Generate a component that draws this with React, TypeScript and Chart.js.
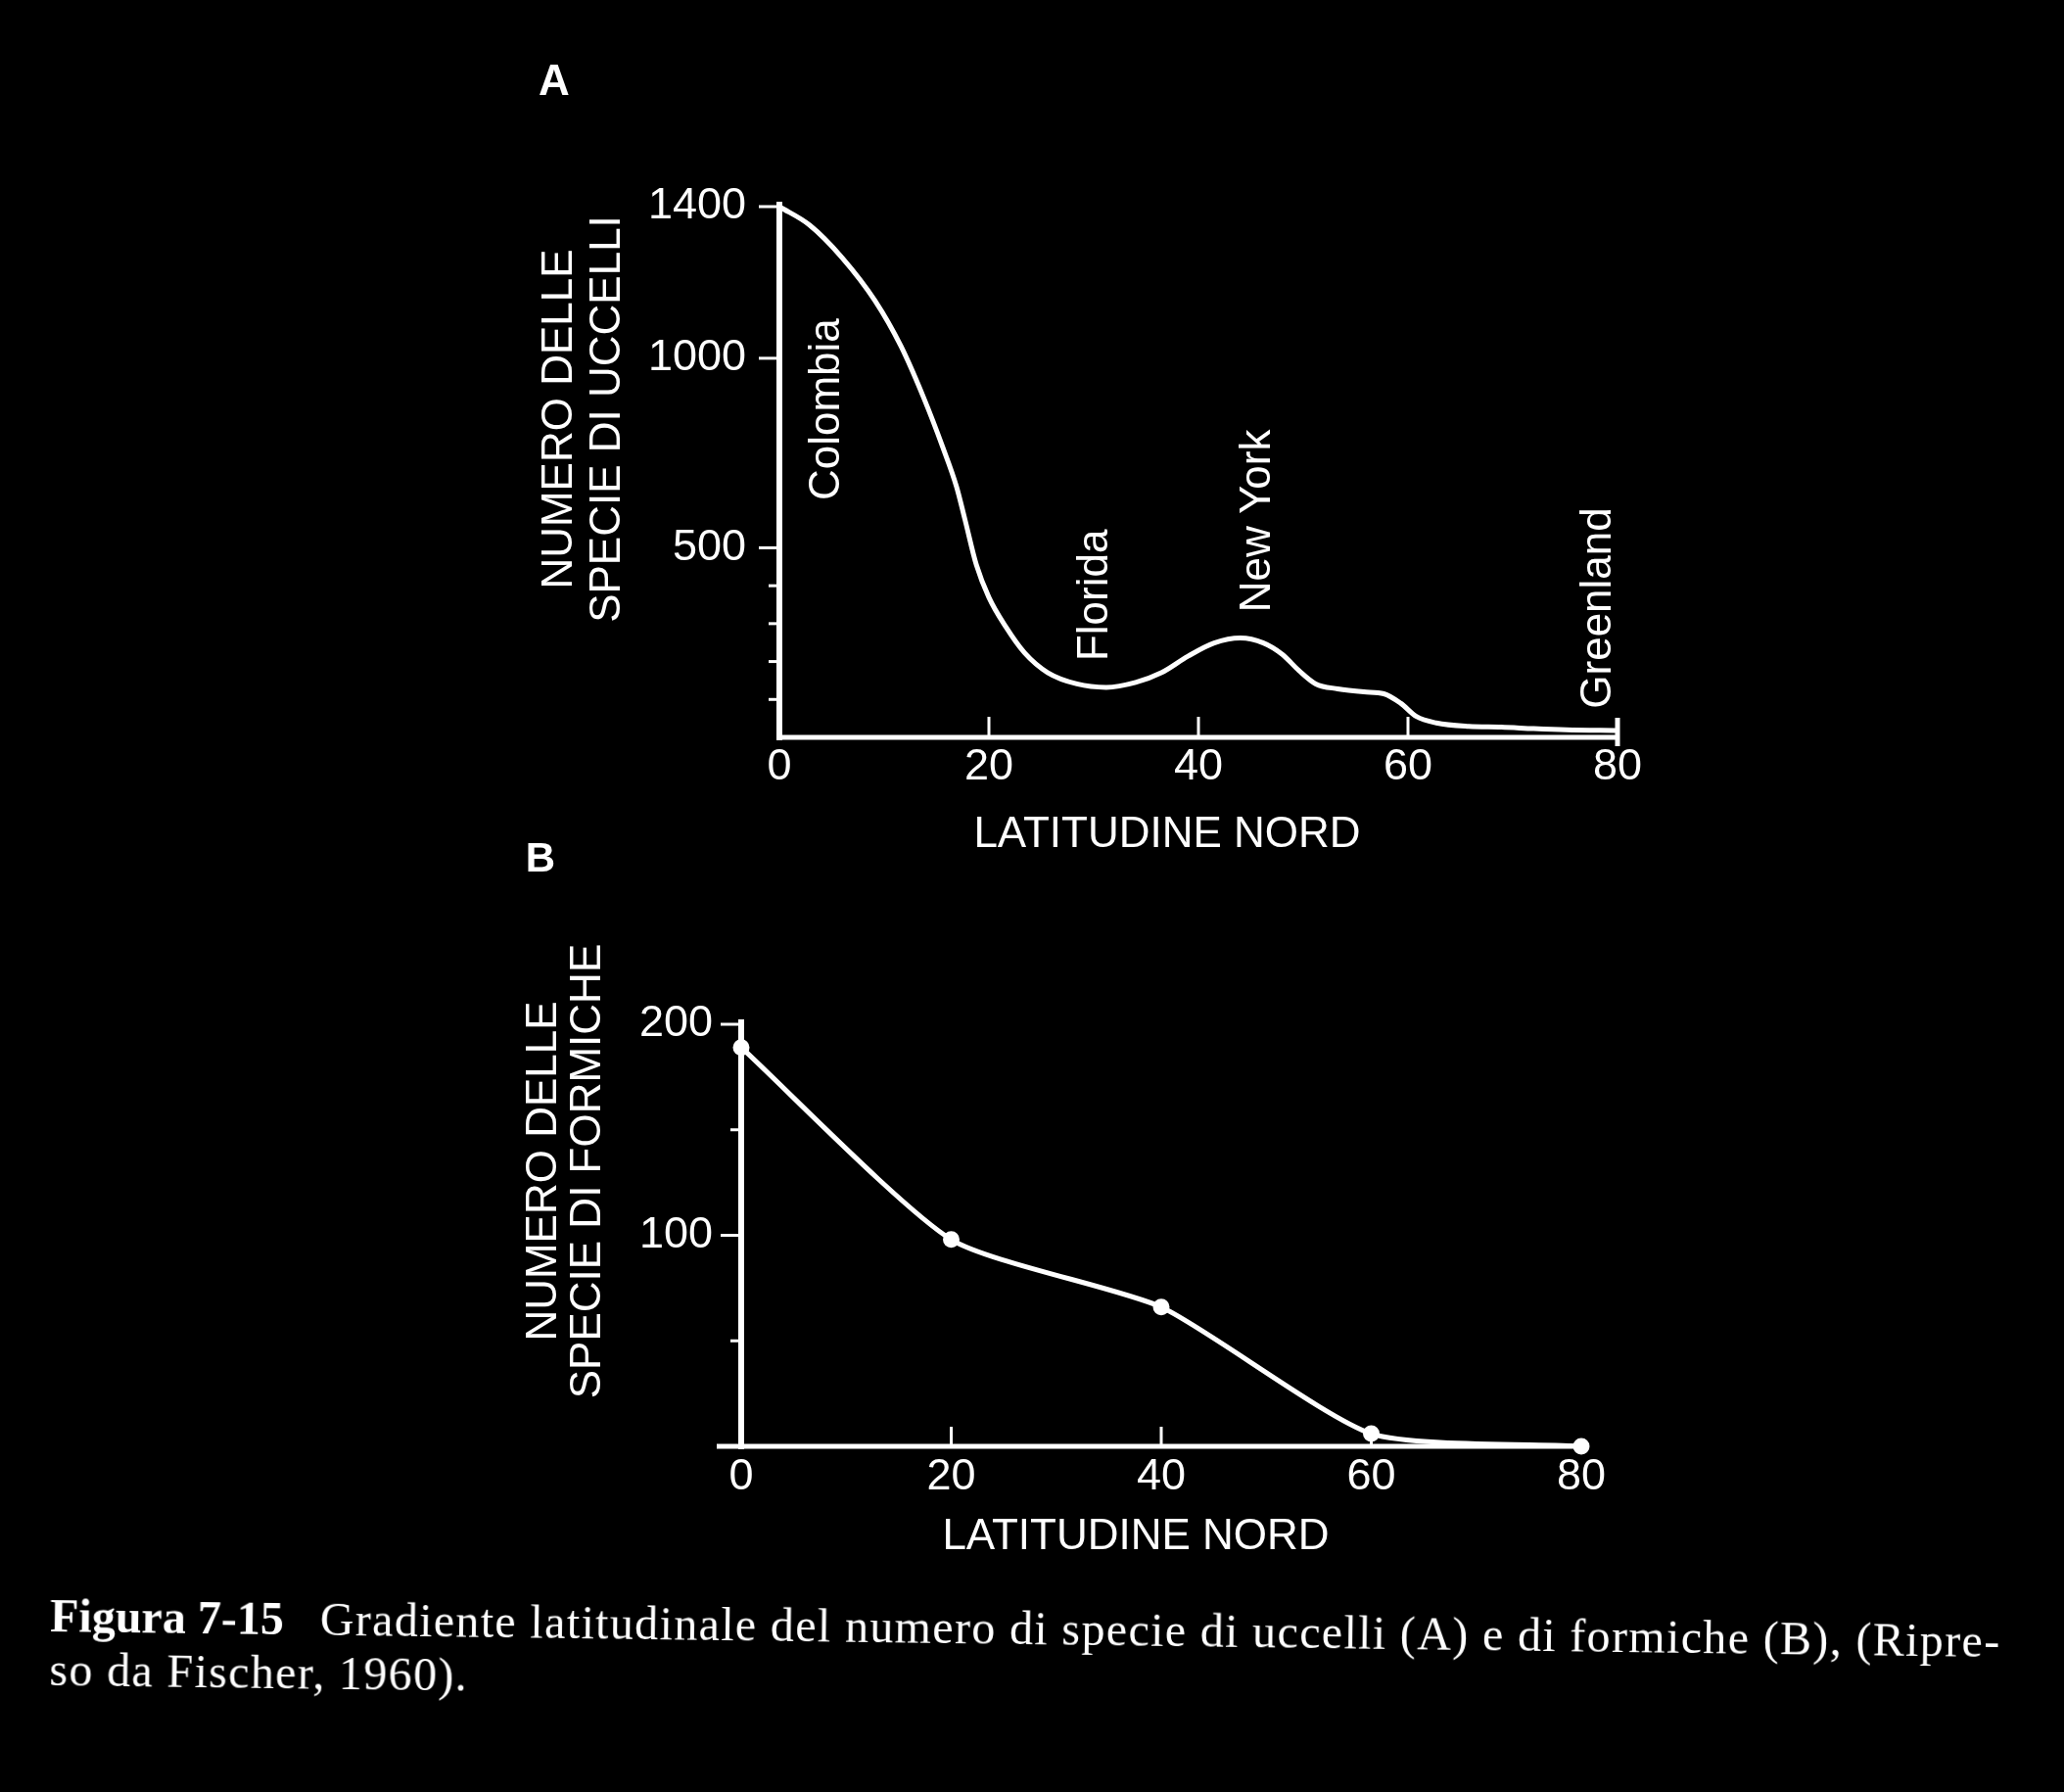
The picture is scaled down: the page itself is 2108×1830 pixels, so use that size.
import React, { useEffect, useRef } from 'react';
import { Chart, registerables } from 'chart.js';

Chart.register(...registerables);

// ---------- Panel A: birds ----------
const latitudeA = [0, 2.9, 6, 9.1, 11.6, 13.8, 15.6, 16.9, 17.7, 18.8, 20, 21.6, 23.4, 25.6, 28.4, 31.2, 34, 36.5, 39, 41.5, 44, 46.2, 48, 49.6, 51.2, 53.3, 55.8, 57.7, 59.3, 60.8, 62.7, 65.8, 68.9, 72, 75.1, 80];
const birdSpecies = [1400, 1351, 1265, 1153, 1032, 894, 765, 662, 576, 455, 369, 292, 223, 171, 141, 132, 145, 171, 214, 249, 262, 249, 219, 176, 141, 128, 120, 115, 90, 55, 38, 29, 27, 23, 20, 18];
const yTicksA = [100, 200, 300, 400, 500, 1000, 1400];
const yLabelledA = [500, 1000, 1400];
const xTicks = [0, 20, 40, 60, 80];
const placeNames = ['Colombia', 'Florida', 'New York', 'Greenland'];
const placeLat = [5.7, 31.3, 46.8, 79.3];
const placeLevel = [865, 375, 571, 341];
const yTitleA = ['NUMERO DELLE', 'SPECIE DI UCCELLI'];

// ---------- Panel B: ants ----------
const latitudeB = [0, 20, 40, 60, 80];
const antSpecies = [189, 98, 66, 6, 0];
const yTicksB = [50, 100, 150, 200];
const yLabelledB = [100, 200];
const yTitleB = ['NUMERO DELLE', 'SPECIE DI FORMICHE'];

const xTitle = 'LATITUDINE NORD';
const SANS = '"Liberation Sans", Arial, sans-serif';

type Decor = {
  letter: string; letterX: number; letterY: number; letterSize: number;
  yTitle: string[]; yTitleOffsets: number[]; yTitleCY: number;
  xTitleCX: number; xTitleDY: number;
  yMajor: number[]; majorLen: number; minorLen: number;
  innerTicks: number[]; innerLen: number;
  yMax: number; axisLeftExt: number; endBar: boolean;
  places?: boolean;
};

function decorPlugin(d: Decor) {
  return {
    id: 'decor',
    afterDraw(chart: any) {
      const { ctx, scales } = chart;
      const x = scales.x, y = scales.y;
      const x0 = x.getPixelForValue(0);
      const x1 = x.getPixelForValue(80);
      const y0 = y.getPixelForValue(0);
      const yTop = y.getPixelForValue(d.yMax);
      ctx.save();
      ctx.strokeStyle = '#fff';
      ctx.fillStyle = '#fff';
      // axes
      ctx.lineWidth = 6;
      ctx.beginPath();
      ctx.moveTo(x0, yTop - 5);
      ctx.lineTo(x0, y0 + 3);
      ctx.stroke();
      ctx.lineWidth = 5;
      ctx.beginPath();
      ctx.moveTo(x0 - d.axisLeftExt, y0);
      ctx.lineTo(x1, y0);
      ctx.stroke();
      // y ticks
      ctx.lineWidth = 3;
      (y.ticks as any[]).forEach((t) => {
        const py = y.getPixelForValue(t.value);
        const len = d.yMajor.includes(t.value) ? d.majorLen : d.minorLen;
        ctx.beginPath();
        ctx.moveTo(x0 - len, py);
        ctx.lineTo(x0, py);
        ctx.stroke();
      });
      // inner x ticks
      d.innerTicks.forEach((v) => {
        const px = x.getPixelForValue(v);
        ctx.beginPath();
        ctx.moveTo(px, y0);
        ctx.lineTo(px, y0 - d.innerLen);
        ctx.stroke();
      });
      if (d.endBar) {
        ctx.lineWidth = 5;
        ctx.beginPath();
        ctx.moveTo(x1, y0 + 9);
        ctx.lineTo(x1, y0 - 20);
        ctx.stroke();
      }
      // panel letter
      ctx.font = `bold ${d.letterSize}px ${SANS}`;
      ctx.textAlign = 'center';
      ctx.textBaseline = 'middle';
      ctx.fillText(d.letter, d.letterX, d.letterY);
      // axis titles
      ctx.font = `44px ${SANS}`;
      ctx.fillText(xTitle, d.xTitleCX, y0 + d.xTitleDY);
      d.yTitle.forEach((line, i) => {
        ctx.save();
        ctx.translate(x0 + d.yTitleOffsets[i], d.yTitleCY);
        ctx.rotate(-Math.PI / 2);
        ctx.fillText(line, 0, 0);
        ctx.restore();
      });
      // place names
      if (d.places) {
        ctx.font = `44px ${SANS}`;
        ctx.textBaseline = 'alphabetic';
        placeNames.forEach((name, i) => {
          ctx.save();
          ctx.translate(x.getPixelForValue(placeLat[i]), y.getPixelForValue(placeLevel[i]));
          ctx.rotate(-Math.PI / 2);
          ctx.fillText(name, 0, 0);
          ctx.restore();
        });
      }
      ctx.restore();
    },
  };
}

function makeConfig(opts: {
  points: { x: number; y: number }[];
  yMax: number; yTicks: number[]; yLabelled: number[];
  padTop: number; padRight: number; yWidth: number; xHeight: number;
  xLabelPad: number; yLabelPad: number;
  lineWidth: number; pointRadius: number; tension: number; monotone: boolean;
  decor: Decor;
}): any {
  const tickFont = { family: SANS, size: 45 };
  return {
    type: 'line',
    data: {
      datasets: [
        {
          data: opts.points,
          borderColor: '#fff',
          backgroundColor: '#fff',
          borderWidth: opts.lineWidth,
          pointRadius: opts.pointRadius,
          pointBorderWidth: 0,
          pointBackgroundColor: '#fff',
          tension: opts.tension,
          cubicInterpolationMode: opts.monotone ? 'monotone' : 'default',
          fill: false,
          clip: false,
        },
      ],
    },
    options: {
      responsive: false,
      animation: false,
      devicePixelRatio: 1,
      events: [],
      layout: { padding: { top: opts.padTop, right: opts.padRight, left: 0, bottom: 0 } },
      plugins: { legend: { display: false }, tooltip: { enabled: false }, title: { display: false } },
      scales: {
        x: {
          type: 'linear',
          min: 0,
          max: 80,
          afterBuildTicks: (s: any) => { s.ticks = xTicks.map((v) => ({ value: v })); },
          afterFit: (s: any) => { s.height = opts.xHeight; },
          grid: { display: false, drawTicks: false },
          border: { display: false },
          ticks: { color: '#fff', font: tickFont, padding: opts.xLabelPad, maxRotation: 0, autoSkip: false },
        },
        y: {
          type: 'linear',
          min: 0,
          max: opts.yMax,
          afterBuildTicks: (s: any) => { s.ticks = opts.yTicks.map((v) => ({ value: v })); },
          afterFit: (s: any) => { s.width = opts.yWidth; },
          grid: { display: false, drawTicks: false },
          border: { display: false },
          ticks: {
            color: '#fff',
            font: tickFont,
            padding: opts.yLabelPad,
            autoSkip: false,
            callback: (v: number) => (opts.yLabelled.includes(v) ? String(v) : ''),
          },
        },
      },
    },
    plugins: [decorPlugin(opts.decor)],
  };
}

function ChartCanvas({ top, height, build }: { top: number; height: number; build: () => any }) {
  const ref = useRef<HTMLCanvasElement>(null);
  useEffect(() => {
    const chart = new Chart(ref.current as HTMLCanvasElement, build());
    return () => chart.destroy();
  }, []);
  return (
    <canvas
      ref={ref}
      width={2108}
      height={height}
      style={{ position: 'absolute', left: 0, top, width: 2108, height, display: 'block' }}
    />
  );
}

const buildA = () =>
  makeConfig({
    points: latitudeA.map((x, i) => ({ x, y: birdSpecies[i] })),
    yMax: 1400,
    yTicks: yTicksA,
    yLabelled: yLabelledA,
    padTop: 211,
    padRight: 456,
    yWidth: 796,
    xHeight: 147,
    xLabelPad: 4,
    yLabelPad: 34,
    lineWidth: 5,
    pointRadius: 0,
    tension: 0.4,
    monotone: true,
    decor: {
      letter: 'A', letterX: 566, letterY: 85, letterSize: 44,
      yTitle: yTitleA, yTitleOffsets: [-224, -175], yTitleCY: 428,
      xTitleCX: 1192, xTitleDY: 100,
      yMajor: yLabelledA, majorLen: 21, minorLen: 11,
      innerTicks: [20, 40, 60], innerLen: 21,
      yMax: 1400, axisLeftExt: 3, endBar: true, places: true,
    },
  });

const buildB = () =>
  makeConfig({
    points: latitudeB.map((x, i) => ({ x, y: antSpecies[i] })),
    yMax: 200,
    yTicks: yTicksB,
    yLabelled: yLabelledB,
    padTop: 196,
    padRight: 493,
    yWidth: 757,
    xHeight: 173,
    xLabelPad: 5,
    yLabelPad: 29,
    lineWidth: 5,
    pointRadius: 8.5,
    tension: 0.2,
    monotone: false,
    decor: {
      letter: 'B', letterX: 552, letterY: 28, letterSize: 42,
      yTitle: yTitleB, yTitleOffsets: [-201, -156], yTitleCY: 346,
      xTitleCX: 1160, xTitleDY: 93,
      yMajor: yLabelledB, majorLen: 21, minorLen: 11,
      innerTicks: [20, 40, 60], innerLen: 20,
      yMax: 200, axisLeftExt: 25, endBar: false, places: false,
    },
  });

export default function App() {
  useEffect(() => {
    document.body.style.margin = '0';
    document.body.style.background = '#000';
  }, []);
  const serif = '"Liberation Serif", "Times New Roman", serif';
  return (
    <div style={{ position: 'fixed', left: 0, top: 0, width: 2108, height: 1830, background: '#000', overflow: 'hidden' }}>
      <ChartCanvas top={0} height={900} build={buildA} />
      <ChartCanvas top={850} height={800} build={buildB} />
      <div
        style={{
          position: 'absolute',
          left: 51,
          top: 1622,
          color: '#fff',
          fontFamily: serif,
          fontSize: 48,
          lineHeight: '55px',
          whiteSpace: 'nowrap',
          transform: 'rotate(0.75deg)',
          transformOrigin: '0px 44px',
        }}
      >
        <span style={{ fontWeight: 'bold', marginRight: 37 }}>Figura 7-15</span>
        <span style={{ letterSpacing: '1.35px' }}>
          Gradiente latitudinale del numero di specie di uccelli (A) e di formiche (B), (Ripre-
        </span>
        <br />
        <span style={{ letterSpacing: '1.35px' }}>so da Fischer, 1960).</span>
      </div>
    </div>
  );
}
